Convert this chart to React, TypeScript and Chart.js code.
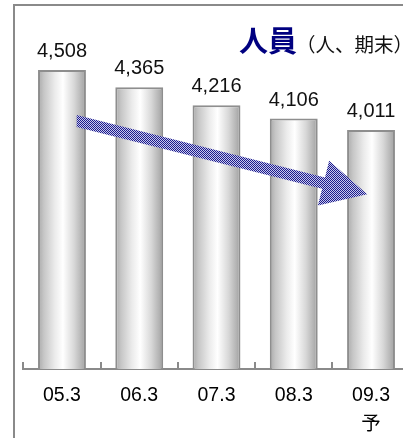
import React, { useEffect, useRef } from "react";
import { Chart, registerables } from "chart.js";

Chart.register(...registerables);

// ---- data ----
const categories: (string | string[])[] = ["05.3", "06.3", "07.3", "08.3", ["09.3", "予"]];
const headcount: number[] = [4508, 4365, 4216, 4106, 4011];
const titleMain = "人員";
const titleUnit = "（人、期末）";
const yMin = 2031;
const yMax = 4840;
// decorative trend arrow, in data coordinates (category index, value)
const arrowStart = { x: 0.19, y: 4086 };
const arrowEnd = { x: 3.95, y: 3480 };

// ---- styles ----
const W = 420;
const H = 453;
const BAR_PCT = 0.62;
const LATIN = "'Liberation Sans', Arial, sans-serif";
const CJK = "'Noto Sans CJK JP', sans-serif";

function makePattern(ctx: CanvasRenderingContext2D) {
  const c = document.createElement("canvas");
  c.width = 2;
  c.height = 2;
  const p = c.getContext("2d")!;
  p.fillStyle = "#c8c8ee";
  p.fillRect(0, 0, 2, 2);
  p.fillStyle = "#1c1c8a";
  p.fillRect(0, 0, 1, 1);
  p.fillRect(1, 1, 1, 1);
  return ctx.createPattern(c, "repeat")!;
}

const framePlugin = {
  id: "frame",
  beforeDraw(chart: any) {
    const ctx = chart.ctx;
    ctx.save();
    ctx.fillStyle = "#ffffff";
    ctx.fillRect(0, 0, chart.width, chart.height);
    ctx.strokeStyle = "#8a8a8a";
    ctx.lineWidth = 2;
    ctx.strokeRect(14, 5, 600, 600);
    ctx.restore();
  },
};

const decorPlugin = {
  id: "decor",
  afterDatasetsDraw(chart: any) {
    const ctx = chart.ctx;
    const xs = chart.scales.x;
    const ys = chart.scales.y;
    const area = chart.chartArea;
    ctx.save();
    // upward tick marks at category boundaries
    const n = categories.length;
    const catW = (area.right - area.left) / n;
    ctx.strokeStyle = "#8a8a8a";
    ctx.lineWidth = 2;
    for (let i = 0; i <= n; i++) {
      const x = Math.round(area.left + i * catW);
      ctx.beginPath();
      ctx.moveTo(x, area.bottom);
      ctx.lineTo(x, area.bottom - 7);
      ctx.stroke();
    }
    // value labels
    const meta = chart.getDatasetMeta(0);
    ctx.fillStyle = "#111111";
    ctx.font = `20px ${LATIN}`;
    ctx.textAlign = "center";
    ctx.textBaseline = "alphabetic";
    meta.data.forEach((bar: any, i: number) => {
      ctx.fillText(headcount[i].toLocaleString("en-US"), bar.x, bar.y - 13);
    });
    // trend arrow
    const p0 = { x: xs.getPixelForValue(arrowStart.x), y: ys.getPixelForValue(arrowStart.y) };
    const p1 = { x: xs.getPixelForValue(arrowEnd.x), y: ys.getPixelForValue(arrowEnd.y) };
    const dx = p1.x - p0.x;
    const dy = p1.y - p0.y;
    const len = Math.hypot(dx, dy);
    const ux = dx / len;
    const uy = dy / len;
    const nx = -uy;
    const ny = ux;
    const bh = 5.9;
    const hl = 45;
    const hw = 23;
    const bx = p1.x - ux * hl;
    const by = p1.y - uy * hl;
    ctx.beginPath();
    ctx.moveTo(p0.x, p0.y - 6);
    ctx.lineTo(bx - nx * bh, by - ny * bh);
    ctx.lineTo(bx - nx * hw, by - ny * hw);
    ctx.lineTo(p1.x, p1.y);
    ctx.lineTo(bx + nx * hw, by + ny * hw);
    ctx.lineTo(bx + nx * bh, by + ny * bh);
    ctx.lineTo(p0.x, p0.y + 6);
    ctx.closePath();
    ctx.fillStyle = makePattern(ctx);
    ctx.fill();
    // title
    ctx.textAlign = "left";
    ctx.fillStyle = "#000080";
    ctx.font = `bold 29px ${CJK}`;
    ctx.fillText(titleMain, 239, 51.5);
    ctx.fillStyle = "#111111";
    ctx.font = `19.5px ${CJK}`;
    ctx.fillText(titleUnit, 296, 52);
    ctx.restore();
  },
};

export default function App() {
  const ref = useRef<HTMLCanvasElement | null>(null);
  useEffect(() => {
    if (!ref.current) return;
    const chart = new Chart(ref.current, {
      type: "bar",
      data: {
        labels: categories,
        datasets: [
          {
            data: headcount,
            backgroundColor: (c: any) => {
              const chart = c.chart;
              const area = chart.chartArea;
              const xs = chart.scales?.x;
              if (!xs || !area || c.dataIndex === undefined) return "#d0d0d0";
              const catW = (area.right - area.left) / categories.length;
              const cx = area.left + catW * (c.dataIndex + 0.5);
              const w = catW * BAR_PCT;
              if (!isFinite(cx) || !isFinite(w) || w <= 0) return "#d0d0d0";
              const g = chart.ctx.createLinearGradient(cx - w / 2, 0, cx + w / 2, 0);
              g.addColorStop(0, "#a8a8a8");
              g.addColorStop(0.12, "#c6c6c6");
              g.addColorStop(0.35, "#ebebeb");
              g.addColorStop(0.52, "#ffffff");
              g.addColorStop(0.75, "#d8d8d8");
              g.addColorStop(0.92, "#b2b2b2");
              g.addColorStop(1, "#9a9a9a");
              return g;
            },
            borderColor: "#8e8e8e",
            borderWidth: 2,
            barPercentage: BAR_PCT,
            categoryPercentage: 1,
          },
        ],
      },
      options: {
        responsive: false,
        animation: false,
        devicePixelRatio: 1,
        layout: { padding: { left: 23.35, right: W - 409.65, top: 30, bottom: 1.7 } },
        plugins: { legend: { display: false }, title: { display: false }, tooltip: { enabled: false } },
        scales: {
          x: {
            offset: true,
            grid: { display: false, drawTicks: false },
            border: { display: true, color: "#8a8a8a", width: 2 },
            ticks: {
              color: "#000000",
              padding: 11.9,
              maxRotation: 0,
              autoSkip: false,
              font: { family: "'Liberation Sans', 'Noto Sans CJK JP', sans-serif", size: 19.5, lineHeight: 1.5 },
            },
          },
          y: { display: false, min: yMin, max: yMax },
        },
      },
      plugins: [framePlugin, decorPlugin],
    });
    return () => chart.destroy();
  }, []);
  return (
    <div style={{ position: "fixed", left: 0, top: 0, width: 403, height: 438, overflow: "hidden", background: "#fff" }}>
      <canvas ref={ref} width={W} height={H} style={{ display: "block", width: W, height: H }} />
    </div>
  );
}
